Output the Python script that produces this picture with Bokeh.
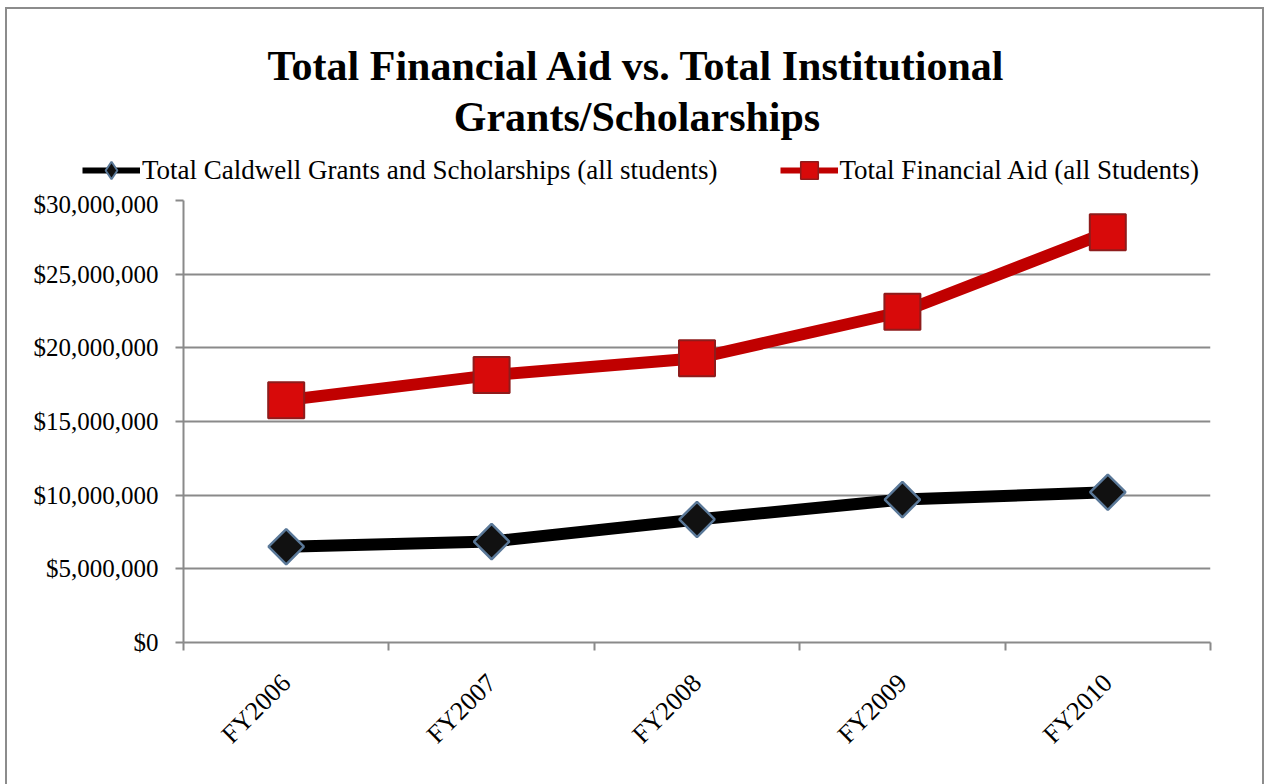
import math
from bokeh.plotting import figure
from bokeh.models import (ColumnDataSource, FixedTicker, NumeralTickFormatter,
                          Legend, LegendItem, Label, Range1d)
from bokeh.embed import file_html
from bokeh.resources import INLINE

categories = ["FY2006", "FY2007", "FY2008", "FY2009", "FY2010"]
caldwell_grants = [6500000, 6850000, 8350000, 9700000, 10200000]
total_aid = [16450000, 18150000, 19300000, 22450000, 27850000]
y_ticks = [0, 5000000, 10000000, 15000000, 20000000, 25000000, 30000000]

title_lines = ["Total Financial Aid vs. Total Institutional", "Grants/Scholarships"]
label_grants = "Total Caldwell Grants and Scholarships (all students)"
label_aid = "Total Financial Aid (all Students)"

SERIF = "Times"
GRAY = "#8a8a8a"
W = 1265
HEAD_H = 190
TOP_GAP = 10
MAIN_H = 784 - HEAD_H

xpos = [i + 0.5 for i in range(len(categories))]
src = ColumnDataSource(dict(x=xpos, cat=categories, grants=caldwell_grants, aid=total_aid))

# ---------------- main chart ----------------
p = figure(width=W, height=MAIN_H, output_backend="svg", toolbar_location=None,
           x_range=Range1d(0, len(categories)), y_range=Range1d(0, 30000000),
           min_border_left=183, min_border_right=55, min_border_top=TOP_GAP,
           min_border_bottom=MAIN_H - TOP_GAP - 442)
p.title = None
p.outline_line_color = None
p.background_fill_color = "white"
p.border_fill_color = None

xa = p.xaxis[0]
xa.ticker = FixedTicker(ticks=xpos, minor_ticks=list(range(len(categories) + 1)))
xa.major_label_overrides = {x: c for x, c in zip(xpos, categories)}
xa.major_tick_line_color = None
xa.minor_tick_line_color = GRAY
xa.minor_tick_line_width = 2
xa.minor_tick_in = 0
xa.minor_tick_out = 8
xa.axis_line_color = GRAY
xa.axis_line_width = 2
xa.major_label_orientation = math.pi / 4
xa.major_label_text_font = SERIF
xa.major_label_text_font_size = "26px"
xa.major_label_text_color = "black"
xa.major_label_standoff = 28

ya = p.yaxis[0]
ya.ticker = FixedTicker(ticks=y_ticks)
ya.formatter = NumeralTickFormatter(format="$0,0")
ya.major_tick_line_color = GRAY
ya.major_tick_line_width = 2
ya.major_tick_in = 0
ya.major_tick_out = 8
ya.minor_tick_line_color = None
ya.axis_line_color = GRAY
ya.axis_line_width = 2
ya.major_label_text_font = SERIF
ya.major_label_text_font_size = "25px"
ya.major_label_text_color = "black"
ya.major_label_standoff = 17

p.xgrid.grid_line_color = None
p.ygrid.ticker = FixedTicker(ticks=y_ticks)
p.ygrid.grid_line_color = GRAY
p.ygrid.grid_line_width = 2

p.line("x", "grants", source=src, line_color="black", line_width=12)
p.scatter("x", "grants", source=src, marker="square", angle=math.pi / 4, size=25,
          fill_color="#111111", line_color="#5a7898", line_width=2.5)
p.line("x", "aid", source=src, line_color="#c00000", line_width=12)
p.scatter("x", "aid", source=src, marker="square", size=36, fill_color="#d80a0a",
          line_color="#8e1c1c", line_width=2)

# ---------------- header: title + legend ----------------
h = figure(width=W, height=HEAD_H, output_backend="svg", toolbar_location=None,
           x_range=Range1d(0, W), y_range=Range1d(0, HEAD_H),
           x_axis_type=None, y_axis_type=None, min_border=0)
h.title = None
h.outline_line_color = None
h.background_fill_color = None
h.border_fill_color = None
h.grid.grid_line_color = None

# legend renderers (same data; they lie outside the header's visible range)
hl1 = h.line("x", "grants", source=src, line_color="black", line_width=6)
hm1 = h.scatter("x", "grants", source=src, marker="diamond",
                fill_color="#111111", line_color="#5a7898", line_width=2)
hl2 = h.line("x", "aid", source=src, line_color="#c00000", line_width=6)
hm2 = h.scatter("x", "aid", source=src, marker="square", fill_color="#d80a0a",
                line_color="#8e1c1c", line_width=1.5)

legend = Legend(items=[LegendItem(label=label_grants, renderers=[hl1, hm1]),
                       LegendItem(label=label_aid, renderers=[hl2, hm2])],
                orientation="horizontal", location=(82, HEAD_H - 192))
legend.border_line_color = None
legend.background_fill_alpha = 0
legend.padding = 0
legend.margin = 0
legend.spacing = 62
legend.glyph_width = 58
legend.glyph_height = 44
legend.label_height = 44
legend.label_standoff = 2
legend.label_text_font = SERIF
legend.label_text_font_size = "27px"
legend.label_text_color = "black"
h.add_layout(legend, "center")

for line_text, base in zip(title_lines, [HEAD_H - 65, HEAD_H - 116]):
    h.add_layout(Label(x=W / 2 + 4, y=base, text=line_text, text_align="center",
                       text_baseline="alphabetic", text_font=SERIF,
                       text_font_size="42px", text_font_style="bold",
                       text_color="black"))

grad = "linear-gradient(#8c8c8c,#8c8c8c)"
h.styles = {
    "background-color": "white",
    "background-image": f"{grad}, {grad}, {grad}",
    "background-size": "2px 100%, 1258px 2px, 2px 100%",
    "background-position": "5px 7px, 5px 7px, 1262px 7px",
    "background-repeat": "no-repeat",
}
p.styles = {
    "background-color": "white",
    "background-image": f"{grad}, {grad}",
    "background-size": "2px 100%, 2px 100%",
    "background-position": "5px 0px, 1262px 0px",
    "background-repeat": "no-repeat",
}

open("out.html", "w").write(file_html([h, p], INLINE))
